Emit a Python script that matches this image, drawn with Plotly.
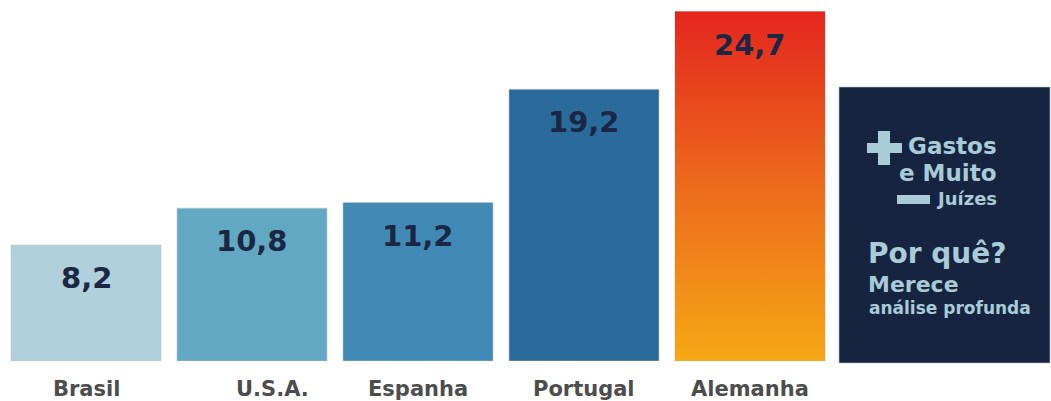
import plotly.graph_objects as go

categories = ["Brasil", "U.S.A.", "Espanha", "Portugal", "Alemanha"]
values = [8.2, 10.8, 11.2, 19.2, 24.7]
value_labels = ["8,2", "10,8", "11,2", "19,2", "24,7"]
bar_colors = ["#b0d0db", "#63a8c3", "#428ab6", "#2a6b9b", "#ec6a1c"]
label_xshift = [0, 20, 0, 0, 0]

W, H = 1051, 401
PLOT_H = 361
BAR_W = 150 / 166
FONT = "DejaVu Sans"
NAVY = "#1b2845"
PANEL = "#172440"
PANEL_TXT = "#a9cbd8"

xs = list(range(len(categories)))

fig = go.Figure()
fig.add_trace(go.Bar(
    x=xs, y=values, width=BAR_W,
    marker=dict(color=bar_colors, line=dict(color="rgba(190,195,200,0.6)", width=1)),
    hoverinfo="skip", showlegend=False,
))

# gradient overlay for the highest bar (Alemanha), built from its value
gi = values.index(max(values))
gx0, gx1 = xs[gi] - BAR_W / 2, xs[gi] + BAR_W / 2
fig.add_trace(go.Scatter(
    x=[gx0, gx1, gx1, gx0, gx0], y=[0, 0, values[gi], values[gi], 0],
    mode="lines", line=dict(width=0), fill="toself",
    fillgradient=dict(type="vertical", colorscale=[[0, "#f6a815"], [0.5, "#ec6a1c"], [1, "#e4261f"]]),
    hoverinfo="skip", showlegend=False,
))

ann = []
for x, v, t in zip(xs, values, value_labels):
    ann.append(dict(x=x, y=v, xref="x", yref="y", text=t, showarrow=False,
                    yanchor="top", yshift=-14,
                    font=dict(family=FONT, size=29, color=NAVY, weight="bold")))
for x, c, s in zip(xs, categories, label_xshift):
    ann.append(dict(x=x, y=0, xref="x", yref="y", text=c, showarrow=False,
                    yanchor="top", yshift=-14, xshift=s,
                    font=dict(family=FONT, size=21, color="#4d4d4d", weight="bold")))


def px(x):
    return x / W


def py(y):
    return (PLOT_H - y) / PLOT_H


panel_texts = [
    ("Gastos", 998, 146, 23, "right"),
    ("e Muito", 998, 173, 23, "right"),
    ("Juízes", 998, 198, 18, "right"),
    ("Por quê?", 867, 254, 28, "left"),
    ("Merece", 867, 284, 22, "left"),
    ("análise profunda", 868, 308, 17, "left"),
]
for t, x, y, s, a in panel_texts:
    ann.append(dict(x=px(x), y=py(y), xref="paper", yref="paper", text=t, showarrow=False,
                    xanchor=a, yanchor="middle", borderpad=0,
                    font=dict(family=FONT, size=s, color=PANEL_TXT, weight="bold")))

shapes = [
    dict(type="rect", xref="paper", yref="paper", x0=px(839), x1=px(1050), y0=py(363), y1=py(87),
         fillcolor=PANEL, line=dict(color="rgba(190,195,200,0.6)", width=1), layer="below"),
    dict(type="rect", xref="paper", yref="paper", x0=px(867), x1=px(902), y0=py(153), y1=py(143),
         fillcolor=PANEL_TXT, line=dict(width=0)),
    dict(type="rect", xref="paper", yref="paper", x0=px(878), x1=px(890), y0=py(165), y1=py(131),
         fillcolor=PANEL_TXT, line=dict(width=0)),
    dict(type="rect", xref="paper", yref="paper", x0=px(897), x1=px(930), y0=py(204), y1=py(195),
         fillcolor=PANEL_TXT, line=dict(width=0)),
]

fig.update_layout(
    width=W, height=H,
    margin=dict(l=0, r=0, t=0, b=H - PLOT_H),
    paper_bgcolor="white", plot_bgcolor="white",
    xaxis=dict(range=[-86 / 166, (W - 86) / 166], showgrid=False, zeroline=False,
               showticklabels=False, ticks="", fixedrange=True),
    yaxis=dict(range=[0, PLOT_H / 14.15], showgrid=False, zeroline=False,
               showticklabels=False, ticks="", fixedrange=True),
    annotations=ann, shapes=shapes, showlegend=False,
)

fig.write_html("out.html")
